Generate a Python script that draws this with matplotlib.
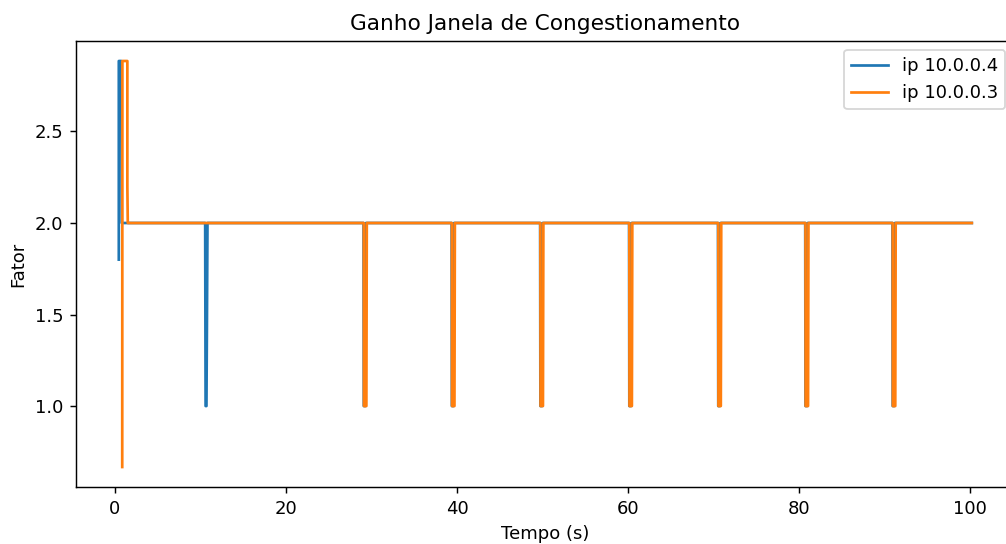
import matplotlib
matplotlib.use("Agg")
import matplotlib.pyplot as plt

# ganho da janela de congestionamento por host (tempo em s, fator)
t_ip4 = [0.45, 0.45, 0.75, 0.8,
         10.55, 10.6, 10.7, 10.75, 10.82,
         29.07, 29.1, 29.3, 29.35,
         39.37, 39.4, 39.6, 39.65,
         49.72, 49.75, 49.95, 50.0,
         60.12, 60.15, 60.35, 60.4,
         70.52, 70.55, 70.75, 70.8,
         80.72, 80.75, 80.95, 81.0,
         90.92, 90.95, 91.15, 91.2,
         100.2]
g_ip4 = [1.80, 2.885, 2.885, 2.0,
         2.0, 1.0, 1.0, 1.4, 2.0,
         2.0, 1.0, 1.0, 2.0,
         2.0, 1.0, 1.0, 2.0,
         2.0, 1.0, 1.0, 2.0,
         2.0, 1.0, 1.0, 2.0,
         2.0, 1.0, 1.0, 2.0,
         2.0, 1.0, 1.0, 2.0,
         2.0, 1.0, 1.0, 2.0,
         2.0]

t_ip3 = [0.85, 0.87, 1.45, 1.45, 1.5,
         29.1, 29.12, 29.4, 29.45,
         39.4, 39.42, 39.7, 39.75,
         49.75, 49.77, 50.05, 50.1,
         60.15, 60.17, 60.45, 60.5,
         70.55, 70.57, 70.85, 70.9,
         80.75, 80.77, 81.05, 81.1,
         90.95, 90.97, 91.25, 91.3,
         100.2]
g_ip3 = [0.667, 2.885, 2.885, 2.2, 2.0,
         2.0, 1.0, 1.0, 2.0,
         2.0, 1.0, 1.0, 2.0,
         2.0, 1.0, 1.0, 2.0,
         2.0, 1.0, 1.0, 2.0,
         2.0, 1.0, 1.0, 2.0,
         2.0, 1.0, 1.0, 2.0,
         2.0, 1.0, 1.0, 2.0,
         2.0]

dpi = 130
fig = plt.figure(figsize=(1006/dpi, 544/dpi), dpi=dpi)
ax = fig.add_axes([0.0757, 0.1042, 0.9327, 0.821])

ax.plot(t_ip4, g_ip4, label="ip 10.0.0.4")
ax.plot(t_ip3, g_ip3, label="ip 10.0.0.3")

ax.set_title("Ganho Janela de Congestionamento")
ax.set_xlabel("Tempo (s)")
ax.set_ylabel("Fator")
ax.legend(loc="upper right")

fig.savefig("out.png", dpi=dpi)
